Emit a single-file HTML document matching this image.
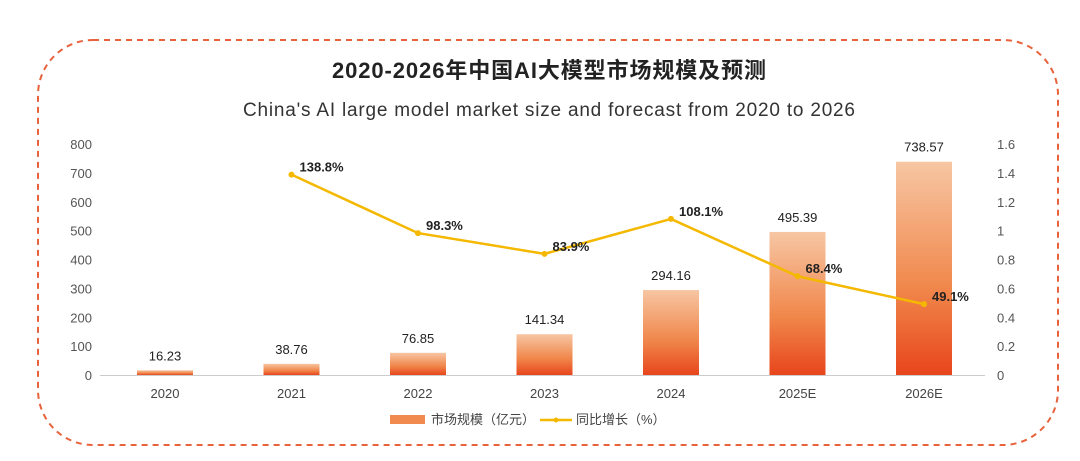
<!DOCTYPE html>
<html><head><meta charset="utf-8"><style>
html,body{margin:0;padding:0;background:#fff;}
svg{display:block;font-family:"Liberation Sans","Noto Sans CJK SC",sans-serif;}
</style></head><body>
<svg id="c" width="1080" height="461" viewBox="0 0 1080 461">
<defs>
<linearGradient id="bg" x1="0" y1="0" x2="0" y2="1">
<stop offset="0" stop-color="#f7c6a3"/><stop offset="0.6" stop-color="#f0864a"/><stop offset="1" stop-color="#e8451c"/>
</linearGradient>
</defs>
<rect x="38" y="40" width="1020" height="405" rx="55" fill="none" stroke="#e8623c" stroke-width="2" stroke-dasharray="6,5"/>
<text x="549" y="78" text-anchor="middle" font-size="22" font-weight="bold" fill="#222" textLength="434">2020-2026年中国AI大模型市场规模及预测</text>
<text x="549" y="116" text-anchor="middle" font-size="19" fill="#333" textLength="612">China's AI large model market size and forecast from 2020 to 2026</text>
<line x1="100" y1="375.5" x2="985" y2="375.5" stroke="#ccc"/>
<g id="g"></g>
<g>
<rect x="390" y="415" width="35" height="9" fill="#f08a4e"/>
<text x="431" y="424" font-size="13" fill="#444">市场规模（亿元）</text>
<line x1="540" y1="420" x2="572" y2="420" stroke="#f5b800" stroke-width="2.5"/>
<circle cx="556" cy="420" r="2.5" fill="#f5b800"/>
<text x="576" y="424" font-size="13" fill="#444">同比增长（%）</text>
</g>
</svg>
<script>
const categories=["2020","2021","2022","2023","2024","2025E","2026E"];
const marketSize=[16.23,38.76,76.85,141.34,294.16,495.39,738.57];
const growth=[null,1.388,0.983,0.839,1.081,0.684,0.491];
const growthLabels=["","138.8%","98.3%","83.9%","108.1%","68.4%","49.1%"];
const leftTicks=[0,100,200,300,400,500,600,700,800];
const rightTicks=[0,0.2,0.4,0.6,0.8,1,1.2,1.4,1.6];
const NS="http://www.w3.org/2000/svg";
const g=document.getElementById('g');
const y0=375,yTop=144;
const yL=v=>y0-(v/800)*(y0-yTop);
const yR=v=>y0-(v/1.6)*(y0-yTop);
const xC=i=>165+i*126.5;
function mk(t,a,txt){const e=document.createElementNS(NS,t);for(const k in a)e.setAttribute(k,a[k]);if(txt!==undefined)e.textContent=txt;g.appendChild(e);return e;}
leftTicks.forEach(v=>{const e=mk('text',{x:92,y:yL(v)+5,'text-anchor':'end','font-size':13,fill:'#555'},String(v));

});
rightTicks.forEach(v=>{const e=mk('text',{x:997,y:yR(v)+5,'font-size':13,fill:'#555'},String(v));

});
categories.forEach((c,i)=>{
const x=xC(i),bw=56,top=yL(marketSize[i]);
const b=mk('rect',{x:x-bw/2,y:top,width:bw,height:y0-top,fill:'url(#bg)'});


const l=mk('text',{x:x,y:top-10,'text-anchor':'middle','font-size':13,fill:'#222'},marketSize[i].toFixed(2));


const t=mk('text',{x:x,y:398,'text-anchor':'middle','font-size':13,fill:'#444'},c);


});
const pts=[];growth.forEach((v,i)=>{if(v!==null)pts.push([xC(i),yR(v)]);});
const pl=mk('polyline',{points:pts.map(p=>p.join(',')).join(' '),fill:'none',stroke:'#f5b800','stroke-width':2.5});


growth.forEach((v,i)=>{if(v===null)return;
const x=xC(i),y=yR(v);
const p=mk('circle',{cx:x,cy:y,r:3,fill:'#f5b800'});


const t=mk('text',{x:x+8,y:y-3,'font-size':13,'font-weight':'bold',fill:'#222'},growthLabels[i]);


});
</script>
</body></html>
